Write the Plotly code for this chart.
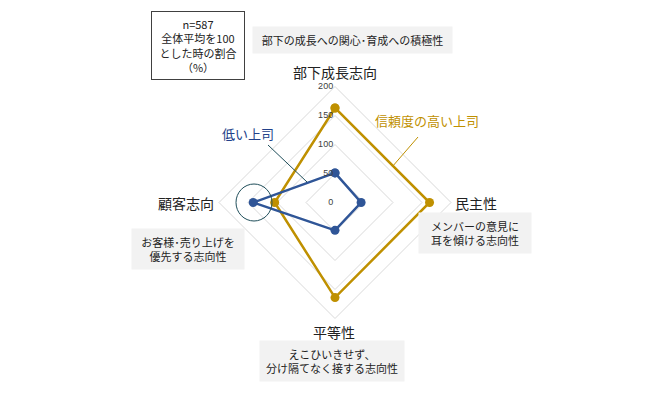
import plotly.graph_objects as go

categories = ["部下成長志向", "民主性", "平等性", "顧客志向"]
high_trust = [163, 163, 164, 104]
low_trust = [51, 45, 48, 141]
radial_ticks = [0, 50, 100, 150, 200]

series_names = ["信頼度の高い上司", "低い上司"]
descriptions = ["部下の成長への関心･育成への積極性", "メンバーの意見に<br>耳を傾ける志向性",
                "えこひいきせず、<br>分け隔てなく接する志向性", "お客様･売り上げを<br>優先する志向性"]

W, H = 672, 400
OFF = 8  # default page body margin
FONT = "Noto Sans CJK JP"
GOLD = "#BF9000"
BLUE = "#2F5597"
BLUE_TXT = "#22418A"
TEAL = "#1F4E5A"

def px(x):
    return (x - OFF) / W

def py(y):
    return 1 - (y - OFF) / H

cx, cy, R = 335, 202.5, 116

fig = go.Figure()
for vals, name, col in [(high_trust, series_names[0], GOLD), (low_trust, series_names[1], BLUE)]:
    fig.add_trace(go.Scatterpolar(
        r=vals + vals[:1], theta=categories + categories[:1], name=name,
        mode="lines+markers", line=dict(color=col, width=2.5),
        marker=dict(color=col, size=9), showlegend=False))

fig.update_layout(
    width=W, height=H, margin=dict(l=0, r=0, t=0, b=0, pad=0, autoexpand=False),
    showlegend=False,
    paper_bgcolor="white", plot_bgcolor="white",
    font=dict(family=FONT, color="#222"),
    polar=dict(
        domain=dict(x=[px(cx - R), px(cx + R)], y=[py(cy + R), py(cy - R)]),
        gridshape="linear", bgcolor="white",
        radialaxis=dict(range=[0, 200], tickvals=radial_ticks, angle=90, tickangle=90,
                        showline=False, ticks="", gridcolor="#D9D9D9", gridwidth=1,
                        tickfont=dict(size=9, color="#404040", family="Liberation Sans"),
                        side="counterclockwise"),
        angularaxis=dict(categoryorder="array", categoryarray=categories,
                         rotation=90, direction="clockwise", showgrid=False,
                         showticklabels=False, ticks="", showline=True,
                         linecolor="#D9D9D9", linewidth=1),
    ),
)

def note(x, y, text, **kw):
    d = dict(x=px(x), y=py(y), xref="paper", yref="paper", showarrow=False,
             xanchor="center", yanchor="middle", text=text)
    d.update(kw)
    return d

ann = []
ann.append(note(198, 45, "n=587<br>全体平均を100<br>とした時の割合<br>（%）",
                font=dict(size=11, color="#222"), bordercolor="#404040", borderwidth=1,
                bgcolor="white", borderpad=4, width=84, align="center"))
label_pos = [(335, 72), (476, 203), (334, 332), (186, 203)]
for cat, (x, y) in zip(categories, label_pos):
    ann.append(note(x, y, cat, font=dict(size=14, color="#222")))
desc_pos = [(352, 40, 189), (475, 233, 102), (332, 361, 134), (188, 249, 102)]
for d, (x, y, w) in zip(descriptions, desc_pos):
    ann.append(note(x, y, d, font=dict(size=11, color="#222"), bgcolor="#F2F2F2",
                    borderpad=5, width=w, align="center"))
ann.append(note(427, 120, series_names[0], font=dict(size=13, color=GOLD)))
ann.append(note(248, 133, series_names[1], font=dict(size=13, color=BLUE_TXT)))
fig.update_layout(annotations=ann)

fig.update_layout(shapes=[
    dict(type="line", xref="paper", yref="paper", x0=px(268), y0=py(145), x1=px(307), y1=py(182),
         line=dict(color=TEAL, width=1)),
    dict(type="circle", xref="paper", yref="paper", x0=px(236), y0=py(184), x1=px(272), y1=py(221),
         line=dict(color=TEAL, width=1)),
    dict(type="line", xref="paper", yref="paper", x0=px(418), y0=py(137), x1=px(392), y1=py(167),
         line=dict(color=GOLD, width=1)),
])

fig.write_html("out.html")
